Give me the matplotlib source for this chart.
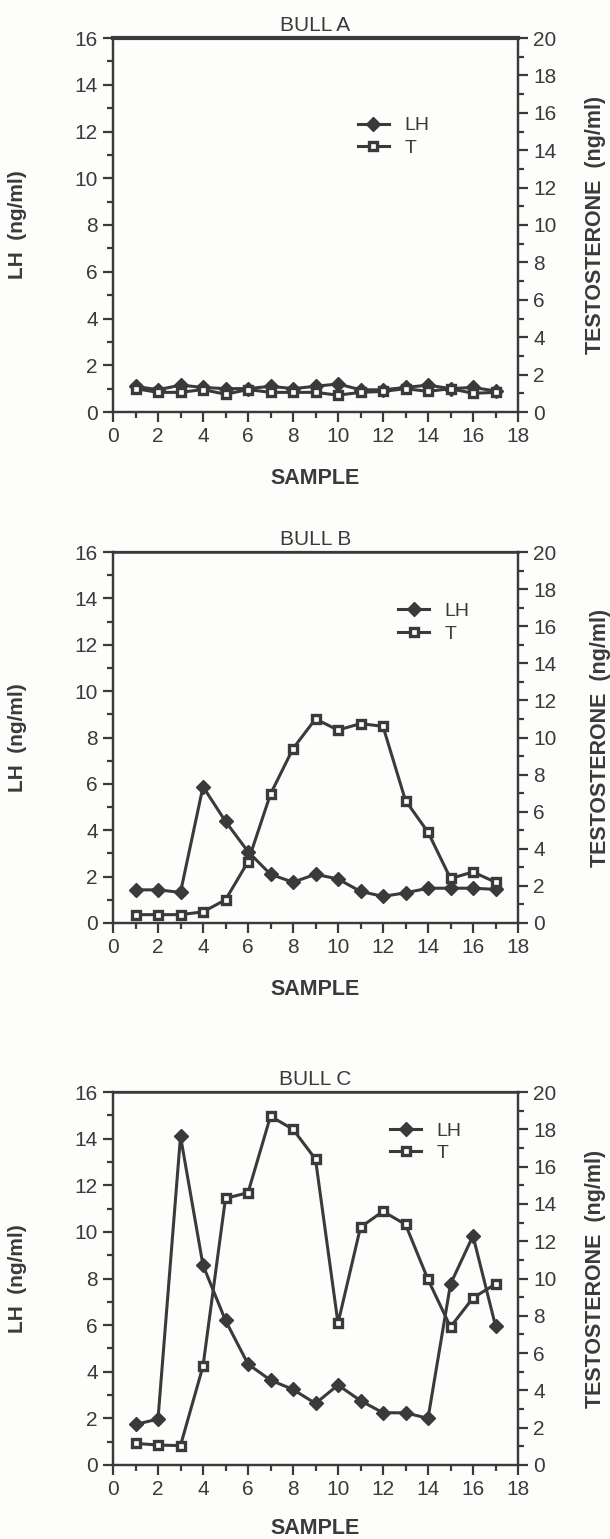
import numpy as np
import matplotlib.pyplot as plt
from matplotlib.ticker import MultipleLocator

plt.rcParams['font.family'] = ['Liberation Sans', 'DejaVu Sans']

samples = np.arange(1, 18)

lh_a = [1.1, 0.95, 1.15, 1.05, 1.0, 1.0, 1.1, 1.0, 1.1, 1.2, 0.95, 0.95, 1.05, 1.15, 1.0, 1.05, 0.9]
t_a = [1.25, 1.05, 1.05, 1.2, 0.95, 1.2, 1.05, 1.05, 1.05, 0.9, 1.05, 1.1, 1.25, 1.1, 1.25, 1.0, 1.05]

lh_b = [1.43, 1.43, 1.32, 5.88, 4.38, 3.08, 2.1, 1.76, 2.1, 1.9, 1.36, 1.15, 1.3, 1.5, 1.5, 1.5, 1.45]
t_b = [0.45, 0.45, 0.45, 0.6, 1.25, 3.3, 6.95, 9.4, 11.0, 10.4, 10.75, 10.6, 6.6, 4.9, 2.4, 2.75, 2.2]

lh_c = [1.74, 1.97, 14.1, 8.57, 6.2, 4.33, 3.64, 3.24, 2.64, 3.43, 2.76, 2.24, 2.24, 2.0, 7.76, 9.83, 5.97]
t_c = [1.16, 1.07, 1.04, 5.3, 14.3, 14.6, 18.7, 18.0, 16.4, 7.6, 12.75, 13.6, 12.9, 9.95, 7.4, 8.96, 9.7]

titles = ['BULL A', 'BULL B', 'BULL C']
lh_all = [lh_a, lh_b, lh_c]
t_all = [t_a, t_b, t_c]

ink = '#3a3a3a'
W, H = 610, 1539
# axes boxes in pixels: left, top, right, bottom
boxes = [(113, 38, 518, 412), (113, 552, 518, 923), (113, 1092, 518, 1465)]
legend_pos = [(0.585, 0.81), (0.685, 0.885), (0.665, 0.94)]
xlabel_y = [-0.15, -0.15, -0.142]
ylabel_r = [1.165, 1.178, 1.165]

fig = plt.figure(figsize=(W / 100, H / 100), dpi=100, facecolor='#fdfdfb')

for i in range(3):
    l, t, r, b = boxes[i]
    ax = fig.add_axes([l / W, 1 - b / H, (r - l) / W, (b - t) / H])
    ax.set_facecolor('none')
    ax2 = ax.twinx()

    ax.plot(samples, lh_all[i], color=ink, lw=2.2, marker='D', ms=7.5,
            mfc=ink, mec=ink, label='LH', zorder=3)
    ax2.plot(samples, t_all[i], color=ink, lw=2.2, marker='s', ms=5.5,
             mfc='white', mec=ink, mew=2.4, label='T', zorder=3)

    ax.set_xlim(0, 18)
    ax.set_ylim(0, 16)
    ax2.set_ylim(0, 20)
    ax.xaxis.set_major_locator(MultipleLocator(2))
    ax.xaxis.set_minor_locator(MultipleLocator(1))
    ax.yaxis.set_major_locator(MultipleLocator(2))
    ax.yaxis.set_minor_locator(MultipleLocator(1))
    ax2.yaxis.set_major_locator(MultipleLocator(2))
    ax2.yaxis.set_minor_locator(MultipleLocator(1))

    for a in (ax, ax2):
        for s in a.spines.values():
            s.set_color(ink)
            s.set_linewidth(1.6)
        a.tick_params(which='major', direction='out', length=7, width=1.6,
                      color=ink, labelcolor=ink, labelsize=15, pad=4)
        a.tick_params(which='minor', direction='out', length=4, width=1.6, color=ink)
    ax2.spines['top'].set_linewidth(3 if i == 0 else 1.8)

    ax.set_xlabel('SAMPLE', fontsize=15.5, fontweight='bold', color=ink)
    ax.xaxis.set_label_coords(0.5, xlabel_y[i])
    ax.set_ylabel('LH  (ng/ml)', fontsize=15, fontweight='bold', color=ink)
    ax.yaxis.set_label_coords(-0.212, 0.5)
    ax2.set_ylabel('TESTOSTERONE  (ng/ml)', fontsize=15.5, fontweight='bold', color=ink)
    ax2.yaxis.set_label_coords(ylabel_r[i], 0.5)
    ax.set_title(titles[i], fontsize=15, color=ink, pad=5)

    h1, l1 = ax.get_legend_handles_labels()
    h2, l2 = ax2.get_legend_handles_labels()
    leg = ax2.legend(h1 + h2, l1 + l2, loc='upper left', bbox_to_anchor=legend_pos[i],
                     frameon=False, fontsize=14, handlelength=1.6, handletextpad=0.8,
                     labelspacing=0.25, borderaxespad=0)
    for txt in leg.get_texts():
        txt.set_color(ink)

fig.savefig('out.png', dpi=100, facecolor=fig.get_facecolor())
